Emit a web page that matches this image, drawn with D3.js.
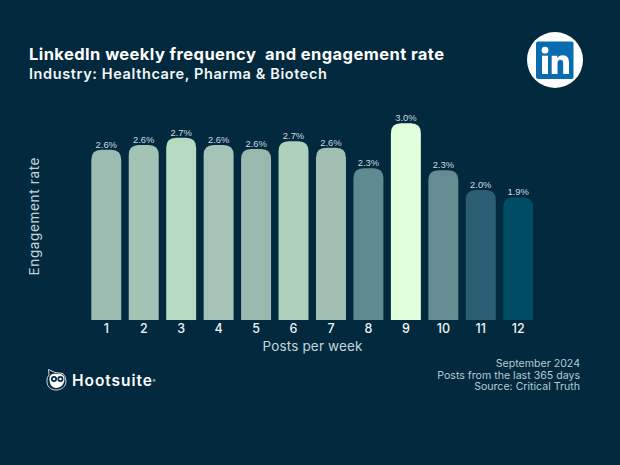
<!DOCTYPE html>
<html><head><meta charset="utf-8">
<script src="https://cdn.jsdelivr.net/npm/d3@7"></script>
<style>
html,body{margin:0;padding:0;background:#02293d;}
svg{display:block;}
text{font-family:"Inter","Open Sans",sans-serif;}
</style></head><body>
<svg id="c" width="620" height="465"></svg>
<script>
const categories=["1","2","3","4","5","6","7","8","9","10","11","12"];
const values=[2.58,2.65,2.76,2.65,2.59,2.71,2.61,2.30,2.98,2.27,1.97,1.86];
const valueLabels=["2.6%","2.6%","2.7%","2.6%","2.6%","2.7%","2.6%","2.3%","3.0%","2.3%","2.0%","1.9%"];
const barColors=["#9dbcb1","#a3c3b5","#b5d9c1","#a5c4b7","#99b9ae","#aed0bd","#a1c0b3","#5f8a90","#e1ffdc","#648c92","#2b5e72","#004c65"];
const footerLines=["September 2024","Posts from the last 365 days","Source: Critical Truth"];

const svg=d3.select("#c");
svg.append("rect").attr("width",620).attr("height",465).attr("fill","#02293d");

const x=d3.scaleBand().domain(categories).range([87.55,536.95]).paddingInner(0.2).paddingOuter(0.1);
const y=d3.scaleLinear().domain([0,3]).range([320,122]);
const r=10;
svg.append("g").selectAll("path").data(values).join("path")
 .attr("fill",(d,i)=>barColors[i])
 .attr("d",(d,i)=>{const X=x(categories[i]),w=x.bandwidth(),t=y(d),b=y(0);
   return `M${X},${b}V${t+r}Q${X},${t} ${X+r},${t}H${X+w-r}Q${X+w},${t} ${X+w},${t+r}V${b}Z`;});
svg.append("g").selectAll("text").data(values).join("text")
 .attr("x",(d,i)=>x(categories[i])+x.bandwidth()/2).attr("y",d=>y(d)-2)
 .attr("text-anchor","middle").attr("fill","#ccdbe0")
 .style("font-family","'Liberation Sans',Arial,sans-serif").style("font-size","9.4px")
 .text((d,i)=>valueLabels[i]);

const ax=svg.append("g").attr("transform","translate(0,320)").call(d3.axisBottom(x).tickSize(0).tickPadding(4.5));
ax.select(".domain").remove();
ax.selectAll("text").attr("fill","#eef4f4").style("font-size","12.5px").style("font-weight","500").style("font-family","Inter,sans-serif");

svg.append("text").attr("x",312.5).attr("y",351).attr("text-anchor","middle").attr("fill","#c3d6de").style("font-size","13.5px").attr("textLength",100).text("Posts per week");
svg.append("text").attr("transform","translate(38.5,216.5) rotate(-90)").attr("text-anchor","middle").attr("fill","#c3d6de").style("font-size","13.5px").attr("textLength",118).text("Engagement rate");

svg.append("text").attr("x",29).attr("y",59.5).attr("fill","#fff").style("font-size","16.5px").style("font-weight","700").attr("textLength",415).attr("xml:space","preserve").text("LinkedIn weekly frequency  and engagement rate");
svg.append("text").attr("x",29).attr("y",79).attr("fill","#f2f6f6").style("font-size","14.5px").style("font-weight","600").attr("textLength",298).text("Industry: Healthcare, Pharma & Biotech");

svg.append("g").selectAll("text").data(footerLines).join("text")
 .attr("x",580).attr("y",(d,i)=>367+i*11.6).attr("text-anchor","end").attr("fill","#b4c9d1").style("font-size","10.6px").text(d=>d);

// LinkedIn badge
const li=svg.append("g");
li.append("circle").attr("cx",555).attr("cy",60).attr("r",28).attr("fill","#fff");
li.append("rect").attr("x",536).attr("y",41.5).attr("width",37.5).attr("height",37.5).attr("rx",2).attr("fill","#0a6cb0");
li.append("circle").attr("cx",545).attr("cy",50.2).attr("r",3.4).attr("fill","#fff");
li.append("rect").attr("x",542).attr("y",55.7).attr("width",6).attr("height",18.3).attr("fill","#fff");
li.append("path").attr("fill","#fff").attr("d","M551.7,55.7H557.3V58C558.3,56.3 560.3,55.2 562.6,55.2C567.3,55.2 569,58 569,62.6V74H563.2V63.6C563.2,61.2 562.4,59.8 560.4,59.8C558.3,59.8 557.5,61.2 557.5,63.6V74H551.7Z");

// Hootsuite owl
const owl=svg.append("g").attr("transform","translate(57,380)");
owl.append("path").attr("fill","none").attr("stroke","#c9d6da").attr("stroke-width",1)
 .attr("d","M-8.5,-10.5L-2,-7.5L6,-6.5Q9,-3 9,1C9,7 4,10 -1,10C-7,10 -10.5,6 -10,0Q-10,-3 -8,-5Z");
owl.append("path").attr("fill","#fff").attr("d","M-7.5,-2C-7.5,-6 -3,-7 0,-6C4,-7 7.5,-5 7.5,-1C7.5,4 4,8 -1,8C-5,8 -8,4 -7.5,-2Z");
owl.append("circle").attr("cx",-3).attr("cy",-1).attr("r",3).attr("fill","#02293d");
owl.append("circle").attr("cx",3.4).attr("cy",-1).attr("r",3).attr("fill","#02293d");
owl.append("circle").attr("cx",-3).attr("cy",-1).attr("r",1.3).attr("fill","#fff");
owl.append("circle").attr("cx",3.4).attr("cy",-1).attr("r",1.3).attr("fill","#fff");
svg.append("text").attr("x",72).attr("y",386).attr("fill","#fff").style("font-size","15.5px").style("font-weight","600").attr("textLength",80).text("Hootsuite");
svg.append("text").attr("x",152.5).attr("y",383).attr("fill","#dde6e9").style("font-size","4.5px").text("®");
</script></body></html>
